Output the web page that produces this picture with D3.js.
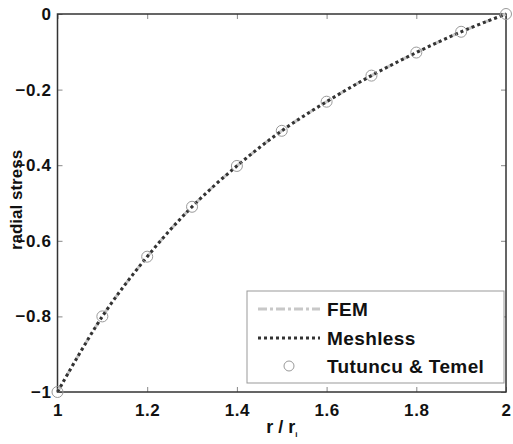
<!DOCTYPE html>
<html>
<head>
<meta charset="utf-8">
<script src="https://cdn.jsdelivr.net/npm/d3@7"></script>
<style>
  body { margin: 0; background: #fff; }
  svg text { font-family: "Liberation Sans", Arial, sans-serif !important; font-weight: 700 !important; fill: #111; }
</style>
</head>
<body>
<div id="chart"></div>
<script>
// values
var radius = [1.0, 1.1, 1.2, 1.3, 1.4, 1.5, 1.6, 1.7, 1.8, 1.9, 2.0];
var femStress = [-1.0, -0.80, -0.642, -0.51, -0.402, -0.309, -0.232, -0.163, -0.102, -0.047, 0.0];
var meshlessStress = [-1.0, -0.80, -0.642, -0.51, -0.402, -0.309, -0.232, -0.163, -0.102, -0.047, 0.0];
var tutuncuStress = [-1.0, -0.80, -0.642, -0.51, -0.402, -0.309, -0.232, -0.163, -0.102, -0.047, 0.0];
var xTicks = [1, 1.2, 1.4, 1.6, 1.8, 2];
var yTicks = [0, -0.2, -0.4, -0.6, -0.8, -1];
var legendLabels = ["FEM", "Meshless", "Tutuncu & Temel"];

var W = 513, H = 444;
var margin = {top: 14, right: 7, bottom: 52, left: 57.5};
var width = W - margin.left - margin.right,
    height = H - margin.top - margin.bottom;

var svg = d3.select("#chart").append("svg")
    .attr("width", W)
    .attr("height", H);

var g = svg.append("g")
    .attr("transform", `translate(${margin.left}, ${margin.top})`);

var x = d3.scaleLinear().domain([1, 2]).range([0, width]);
var y = d3.scaleLinear().domain([-1, 0]).range([height, 0]);

// inward ticks on all four sides
function tickAxis(axis, tr) {
    var a = g.append("g").attr("transform", tr).call(axis);
    a.select(".domain").remove();
    a.selectAll(".tick line").attr("stroke", "#888");
    return a;
}
var xb = tickAxis(d3.axisBottom(x).tickValues(xTicks).tickSize(-5).tickPadding(12).tickFormat(d3.format("")), `translate(0, ${height})`);
xb.selectAll("text").style("font-size", "17px").style("letter-spacing", "0.6px").attr("fill", "#111");
tickAxis(d3.axisTop(x).tickValues(xTicks).tickSize(-5).tickFormat(""), "translate(0,0)");
var yl = tickAxis(d3.axisLeft(y).tickValues(yTicks).tickSize(-5).tickPadding(6).tickFormat(d3.format("")), "translate(0,0)");
yl.selectAll("text").style("font-size", "17px").style("letter-spacing", "0.6px").attr("fill", "#111");
tickAxis(d3.axisRight(y).tickValues(yTicks).tickSize(-5).tickFormat(""), `translate(${width}, 0)`);

// frame
g.append("rect")
    .attr("width", width).attr("height", height)
    .attr("fill", "none").attr("stroke", "#333").attr("stroke-width", 1.5);

var line = function (vals) {
    return d3.line()
        .curve(d3.curveCatmullRom)
        .x(function (d, i) { return x(radius[i]); })
        .y(function (d) { return y(d); })(vals);
};

// FEM
g.append("path")
    .attr("d", line(femStress))
    .attr("fill", "none").attr("stroke", "#c8c8c8")
    .attr("stroke-width", 3).attr("stroke-dasharray", "9,3,3,3");

// Meshless
g.append("path")
    .attr("d", line(meshlessStress))
    .attr("fill", "none").attr("stroke", "#333")
    .attr("stroke-width", 3).attr("stroke-dasharray", "3,3");

// Tutuncu & Temel
g.selectAll(".pt").data(tutuncuStress).enter().append("circle")
    .attr("class", "pt")
    .attr("cx", function (d, i) { return x(radius[i]); })
    .attr("cy", function (d) { return y(d); })
    .attr("r", 5.5)
    .attr("fill", "none").attr("stroke", "#999").attr("stroke-width", 1);

// legend
var lg = svg.append("g");
lg.append("rect")
    .attr("x", 247).attr("y", 291).attr("width", 257).attr("height", 92)
    .attr("fill", "#fff").attr("stroke", "#999").attr("stroke-width", 1);
var rows = [309, 338, 366];
lg.append("line").attr("x1", 258).attr("x2", 320).attr("y1", rows[0]).attr("y2", rows[0])
    .attr("stroke", "#c8c8c8").attr("stroke-width", 3).attr("stroke-dasharray", "9,3,3,3");
lg.append("line").attr("x1", 258).attr("x2", 320).attr("y1", rows[1]).attr("y2", rows[1])
    .attr("stroke", "#333").attr("stroke-width", 3).attr("stroke-dasharray", "3,3");
lg.append("circle").attr("cx", 289).attr("cy", rows[2]).attr("r", 5)
    .attr("fill", "none").attr("stroke", "#999");
legendLabels.forEach(function (t, i) {
    lg.append("text").attr("x", 327).attr("y", rows[i]).attr("dy", "0.35em")
        .style("font-size", "19px").style("letter-spacing", "0.4px").text(t);
});

// axis titles
var xt = svg.append("text")
    .attr("x", margin.left + width / 2).attr("y", 433)
    .attr("text-anchor", "middle").style("font-size", "18px");
xt.append("tspan").text("r / r");
xt.append("tspan").attr("dy", 4).style("font-size", "8px").text("i");

svg.append("text")
    .attr("transform", "translate(22, 200) rotate(-90)")
    .attr("text-anchor", "middle").style("font-size", "17px")
    .text("radial stress");
</script>
</body>
</html>
